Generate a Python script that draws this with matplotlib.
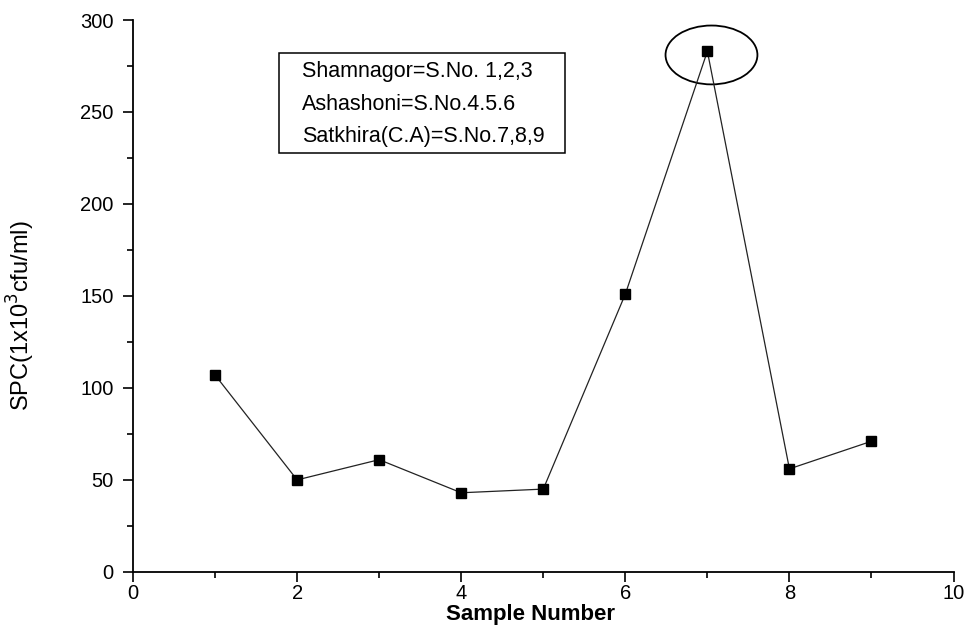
import matplotlib.pyplot as plt
from matplotlib.patches import Ellipse, Rectangle
from matplotlib.ticker import MultipleLocator

plt.rcParams['font.family'] = ['Liberation Sans', 'DejaVu Sans']

# sample numbers and SPC counts
sample_no = [1, 2, 3, 4, 5, 6, 7, 8, 9]
spc = [107, 50, 61, 43, 45, 151, 283, 56, 71]
site_notes = ["Shamnagor=S.No. 1,2,3",
              "Ashashoni=S.No.4.5.6",
              "Satkhira(C.A)=S.No.7,8,9"]
x_ticks = [0, 2, 4, 6, 8, 10]
y_ticks = [0, 50, 100, 150, 200, 250, 300]

fig = plt.figure(figsize=(9.71, 6.25), dpi=100)
ax = fig.add_axes([0.137, 0.085, 0.845, 0.883])

ax.plot(sample_no, spc, color='#222222', linewidth=0.9,
        marker='s', markersize=6.5, markerfacecolor='black', markeredgecolor='black')

# highlight the peak
peak = spc.index(max(spc))
ax.add_patch(Ellipse((sample_no[peak] + 0.05, spc[peak] - 2), 1.12, 32,
                     fill=False, edgecolor='black', linewidth=1.3))

ax.set_xlim(0, 10)
ax.set_ylim(0, 300)
ax.set_xticks(x_ticks)
ax.set_yticks(y_ticks)
ax.xaxis.set_minor_locator(MultipleLocator(1))
ax.yaxis.set_minor_locator(MultipleLocator(25))
ax.tick_params(which='major', direction='out', length=7, width=1.2, labelsize=14.5)
ax.tick_params(which='minor', direction='out', length=4, width=1.2)
ax.tick_params(axis='x', pad=2)
ax.tick_params(axis='y', pad=7)

for side in ['top', 'right']:
    ax.spines[side].set_visible(False)
for side in ['left', 'bottom']:
    ax.spines[side].set_linewidth(1.3)

ax.set_xlabel('Sample Number', fontsize=16, fontweight='bold')
ax.xaxis.set_label_coords(0.485, -0.058)
ax.set_ylabel('SPC(1x10$^3$cfu/ml)', fontsize=17)
ax.yaxis.set_label_coords(-0.117, 0.465)

# site legend box
ax.add_patch(Rectangle((0.178, 0.759), 0.348, 0.181, transform=ax.transAxes,
                       fill=False, edgecolor='black', linewidth=1.1))
for i, note in enumerate(site_notes):
    ax.text(0.206, 0.906 - i * 0.059, note, transform=ax.transAxes,
            fontsize=15.5, va='center', ha='left')

fig.savefig('out.png', dpi=100)
